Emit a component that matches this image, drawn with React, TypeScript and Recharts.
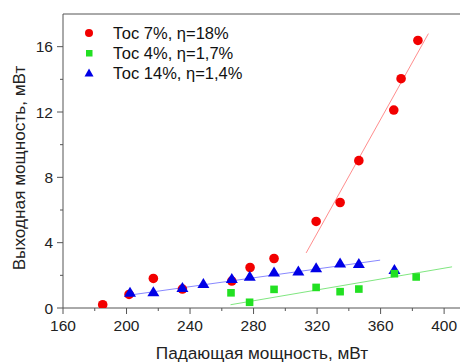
import React from "react";
import {
  ScatterChart,
  Scatter,
  XAxis,
  YAxis,
  ReferenceLine,
  Legend,
} from "recharts";

const FONT = "'Liberation Sans', Arial, sans-serif";
const AXIS = "#555";

// measured points (mW)
const redX = [185, 201.6, 216.9, 235.2, 266.3, 277.8, 292.9, 319.4, 334.5, 346.3, 368.3, 372.9, 383.5];
const redY = [0.2, 0.83, 1.81, 1.16, 1.65, 2.48, 3.03, 5.3, 6.46, 9.02, 12.12, 14.04, 16.38];

const greenX = [265.8, 277.5, 292.9, 319.4, 334.5, 346.3, 368.7, 382.4];
const greenY = [0.93, 0.35, 1.14, 1.26, 1.0, 1.16, 2.1, 1.9];

const blueX = [202.2, 216.9, 235.2, 248.4, 266.3, 277.6, 292.9, 308.2, 319.4, 334.5, 346.3, 368.7];
const blueY = [0.96, 1.0, 1.26, 1.5, 1.81, 1.95, 2.2, 2.27, 2.46, 2.76, 2.72, 2.36];

// linear fits, end points
const redFitX = [313.1, 390.1];
const redFitY = [3.37, 16.8];
const greenFitX = [265.5, 405];
const greenFitY = [0.2, 2.52];
const blueFitX = [199, 359.7];
const blueFitY = [0.75, 2.93];

const xTicks = [160, 180, 200, 220, 240, 260, 280, 300, 320, 340, 360, 380, 400];
const yTicks = [0, 2, 4, 6, 8, 10, 12, 14, 16];

const seriesNames = ["Тос 7%, η=18%", "Тос 4%, η=1,7%", "Тос 14%, η=1,4%"];

const zip = (xs: number[], ys: number[]) => xs.map((x, i) => ({ x, y: ys[i] }));

const RED = "#f20000";
const GREEN = "#22e022";
const BLUE = "#0000e6";

const Dot = (p: any) => <circle cx={p.cx} cy={p.cy} r={4.8} fill={RED} />;
const Sq = (p: any) => <rect x={p.cx - 3.8} y={p.cy - 3.8} width={7.6} height={7.6} fill={GREEN} />;
const Tri = (p: any) => (
  <polygon
    points={`${p.cx},${p.cy - 5.5} ${p.cx - 6},${p.cy + 4.5} ${p.cx + 6},${p.cy + 4.5}`}
    fill={BLUE}
  />
);
const None = () => <g />;

const XTick = (props: any) => {
  const { x, y, payload } = props;
  const major = payload.value % 40 === 0;
  return (
    <g>
      <line x1={x} y1={y} x2={x} y2={y + (major ? 6 : 3)} stroke={AXIS} />
      {major && (
        <text x={x} y={y + 23} textAnchor="middle" fontSize={15.5} fontFamily={FONT} fill="#222">
          {payload.value}
        </text>
      )}
    </g>
  );
};

const YTick = (props: any) => {
  const { x, y, payload } = props;
  const major = payload.value % 4 === 0;
  return (
    <g>
      <line x1={x} y1={y} x2={x - (major ? 6 : 3)} y2={y} stroke={AXIS} />
      {major && (
        <text x={x - 10} y={y + 5.5} textAnchor="end" fontSize={15.5} fontFamily={FONT} fill="#222">
          {payload.value}
        </text>
      )}
    </g>
  );
};

const XTitle = () => (
  <text x={262} y={359} textAnchor="middle" fontSize={17.2} fontFamily={FONT} fill="#222">
    Падающая мощность, мВт
  </text>
);

const YTitle = () => (
  <text
    x={25}
    y={168}
    transform="rotate(-90, 25, 168)"
    textAnchor="middle"
    fontSize={17.2}
    fontFamily={FONT}
    fill="#222"
  >
    Выходная мощность, мВт
  </text>
);

const markers = [
  <circle cx={8} cy={8} r={4} fill={RED} />,
  <rect x={5} y={5} width={6.5} height={6.5} fill={GREEN} />,
  <polygon points="8,3.5 3.5,11.5 12.5,11.5" fill={BLUE} />,
];

const LegendBox = () => (
  <div style={{ fontFamily: FONT, fontSize: 16.5, color: "#111" }}>
    {seriesNames.map((name, i) => (
      <div key={name} style={{ display: "flex", alignItems: "center", height: 20, lineHeight: "20px" }}>
        <svg width={16} height={16} style={{ display: "block" }}>
          {markers[i]}
        </svg>
        <span style={{ marginLeft: 16, whiteSpace: "nowrap" }}>{name}</span>
      </div>
    ))}
  </div>
);

export default function App() {
  return (
    <div style={{ position: "absolute", left: 0, top: 0, background: "#fff" }}>
      <ScatterChart width={460} height={362} margin={{ top: 14, right: 0, bottom: 0, left: 0 }}>
        <XAxis
          type="number"
          dataKey="x"
          domain={[160, 410]}
          ticks={xTicks}
          interval={0}
          allowDataOverflow
          height={54}
          tickSize={0}
          tickMargin={0}
          tickLine={false}
          axisLine={{ stroke: AXIS }}
          tick={<XTick />}
          label={<XTitle />}
        />
        <YAxis
          type="number"
          dataKey="y"
          domain={[0, 18]}
          ticks={yTicks}
          interval={0}
          allowDataOverflow
          width={63}
          tickSize={0}
          tickMargin={0}
          tickLine={false}
          axisLine={{ stroke: AXIS }}
          tick={<YTick />}
          label={<YTitle />}
        />
        <ReferenceLine y={18} stroke={AXIS} ifOverflow="visible" />
        <Legend
          content={<LegendBox />}
          layout="vertical"
          align="center"
          verticalAlign="middle"
          wrapperStyle={{ left: 81, top: 22.5, width: 240 }}
        />
        <Scatter data={zip(redFitX, redFitY)} line={{ stroke: "#ff7070", strokeWidth: 0.8 }} shape={<None />} legendType="none" isAnimationActive={false} />
        <Scatter data={zip(blueFitX, blueFitY)} line={{ stroke: "#6a6aff", strokeWidth: 0.8 }} shape={<None />} legendType="none" isAnimationActive={false} />
        <Scatter data={zip(greenFitX, greenFitY)} line={{ stroke: "#60e060", strokeWidth: 0.8 }} shape={<None />} legendType="none" isAnimationActive={false} />
        <Scatter name={seriesNames[0]} data={zip(redX, redY)} shape={<Dot />} isAnimationActive={false} />
        <Scatter name={seriesNames[2]} data={zip(blueX, blueY)} shape={<Tri />} isAnimationActive={false} />
        <Scatter name={seriesNames[1]} data={zip(greenX, greenY)} shape={<Sq />} isAnimationActive={false} />
      </ScatterChart>
    </div>
  );
}
